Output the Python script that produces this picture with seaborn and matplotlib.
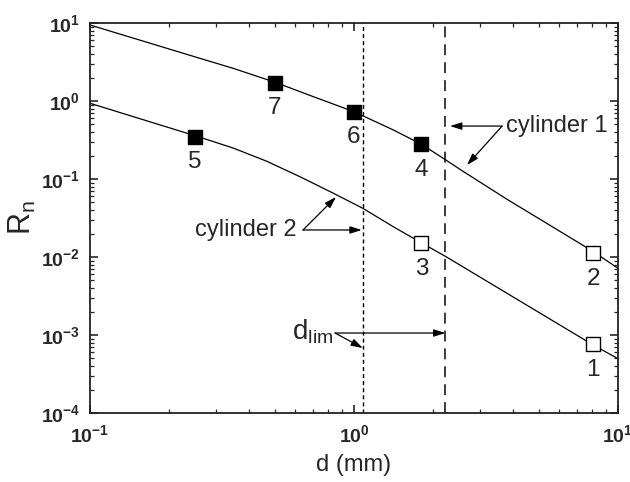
import numpy as np
import pandas as pd
import matplotlib
matplotlib.use("Agg")
import matplotlib.pyplot as plt
import seaborn as sns
from matplotlib.ticker import LogLocator, FuncFormatter, NullFormatter

# ---- data -------------------------------------------------------------
# model curve for cylinder 1
cyl1_d = [0.1, 0.261, 0.349, 0.502, 0.702, 1.0, 1.41, 1.80, 2.23, 2.52, 3.78, 8.04, 10.0]
cyl1_R = [9.43, 3.52, 2.62, 1.74, 1.135, 0.729, 0.425, 0.279, 0.175, 0.133, 0.0555, 0.0118, 0.00716]

# model curve for cylinder 2
cyl2_d = [0.1, 0.261, 0.349, 0.467, 0.624, 0.836, 1.08, 1.41, 1.80, 2.23, 8.05, 10.0]
cyl2_R = [0.935, 0.343, 0.249, 0.169, 0.107, 0.0656, 0.0421, 0.0244, 0.0152, 0.0101, 7.45e-4, 4.97e-4]

# measured points (filled: below d_lim, open: above d_lim)
filled_d = [0.25, 0.50, 1.0, 1.80]
filled_R = [0.348, 1.72, 0.729, 0.279]
filled_lab = ["5", "7", "6", "4"]

open_d = [8.05, 8.05, 1.80]
open_R = [7.6e-4, 0.0111, 0.0152]
open_lab = ["1", "2", "3"]

# limiting diameters
dlim_short = 1.08
dlim_long = 2.22

# ---- style ------------------------------------------------------------
sns.set_style("ticks")
plt.rcParams["font.family"] = ["Liberation Sans", "DejaVu Sans"]
plt.rcParams["mathtext.fontset"] = "custom"
plt.rcParams["mathtext.rm"] = "Liberation Sans"
plt.rcParams["mathtext.bf"] = "Liberation Sans:bold"
plt.rcParams["mathtext.it"] = "Liberation Sans:italic"

fig = plt.figure(figsize=(6.3, 4.82), dpi=100)
ax = fig.add_axes([90 / 630, 1 - 413 / 482, 528 / 630, 390 / 482])
ax.set_xscale("log")
ax.set_yscale("log")

curves = pd.concat([
    pd.DataFrame({"d": cyl1_d, "R": cyl1_R, "cyl": "1"}),
    pd.DataFrame({"d": cyl2_d, "R": cyl2_R, "cyl": "2"}),
])
sns.lineplot(data=curves, x="d", y="R", units="cyl", estimator=None,
             color="black", lw=0.9, sort=True, ax=ax, zorder=2)

ax.axvline(dlim_short, color="black", lw=1.0, ls=(0, (2.9, 2.2)), zorder=1)
ax.axvline(dlim_long, color="#3c3c3c", lw=1.4, ls=(0, (5.6, 3.6)), zorder=1)

sns.scatterplot(x=filled_d, y=filled_R, marker="s", s=100, color="black",
                edgecolor="black", linewidth=1, ax=ax, zorder=3)
sns.scatterplot(x=open_d, y=open_R, marker="s", s=100, color="white",
                edgecolor="black", linewidth=1, ax=ax, zorder=3)

for d, r, t in zip(filled_d + open_d, filled_R + open_R, filled_lab + open_lab):
    ax.annotate(t, xy=(d, r), xytext=(0, -18.5), textcoords="offset points",
                ha="center", va="center", fontsize=17.5)

# ---- annotations --------------------------------------------------------
arrow = dict(arrowstyle="-|>,head_length=0.7,head_width=0.22", color="black",
             lw=0.9, shrinkA=0, shrinkB=0, mutation_scale=10)

# cylinder 1
ax.text(3.77, 0.477, "cylinder 1", fontsize=17, ha="left", va="center")
ax.annotate("", xy=(2.31, 0.477), xytext=(3.64, 0.477), arrowprops=arrow)
ax.annotate("", xy=(2.68, 0.151), xytext=(3.64, 0.477), arrowprops=arrow)

# cylinder 2
ax.text(0.608, 0.0222, "cylinder 2", fontsize=17, ha="right", va="center")
ax.annotate("", xy=(0.855, 0.0588), xytext=(0.641, 0.0222), arrowprops=arrow)
ax.annotate("", xy=(1.07, 0.0222), xytext=(0.641, 0.0222), arrowprops=arrow)

# d_lim
ax.text(0.833, 1.09e-3, r"d$_\mathregular{lim}$", fontsize=20, ha="right", va="center")
ax.annotate("", xy=(dlim_long, 1.06e-3), xytext=(0.848, 1.06e-3), arrowprops=arrow)
ax.annotate("", xy=(dlim_short, 6.8e-4), xytext=(0.848, 1.06e-3), arrowprops=arrow)

# ---- axes -----------------------------------------------------------------
ax.set_xlim(0.1, 10)
ax.set_ylim(1e-4, 10)

pow_fmt = FuncFormatter(lambda v, p: r"$\mathbf{10^{%d}}$" % int(round(np.log10(v))))
for axis in (ax.xaxis, ax.yaxis):
    axis.set_major_locator(LogLocator(base=10, numticks=10))
    axis.set_minor_locator(LogLocator(base=10, subs=np.arange(2, 10), numticks=20))
    axis.set_major_formatter(pow_fmt)
    axis.set_minor_formatter(NullFormatter())

ax.tick_params(which="both", direction="in", top=True, right=True, labelsize=14)
ax.tick_params(which="major", length=6, width=1.2)
ax.tick_params(which="minor", length=3, width=0.9)
ax.tick_params(axis="y", which="major", pad=7)
ax.tick_params(axis="x", which="major", pad=8)

for s in ax.spines.values():
    s.set_linewidth(1.3)
    s.set_color("#222222")

ax.set_xlabel("d (mm)", fontsize=17, labelpad=6)
ax.set_ylabel(r"R$_\mathregular{n}$", fontsize=22)
ax.yaxis.set_label_coords(-0.098, 0.5)

fig.savefig("out.png", dpi=100)
